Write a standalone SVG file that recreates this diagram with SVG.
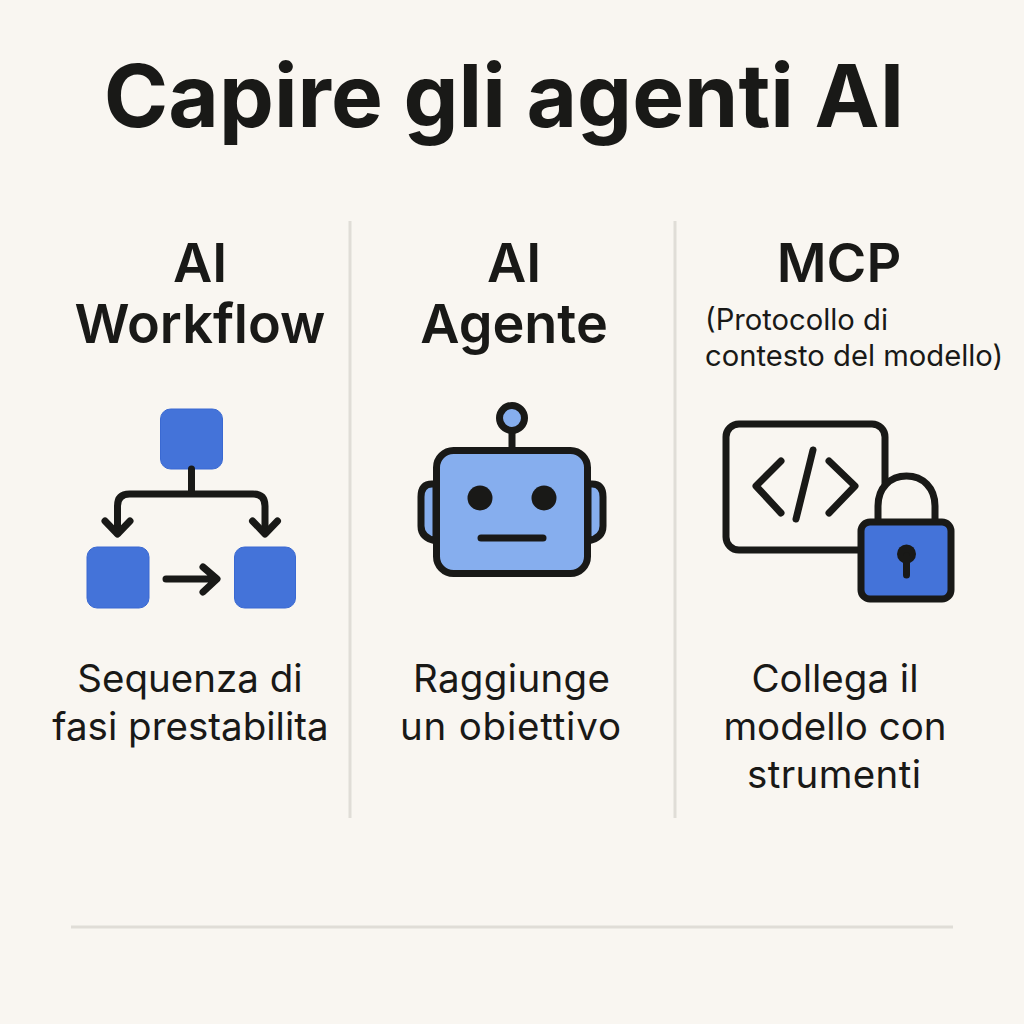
<svg xmlns="http://www.w3.org/2000/svg" width="1024" height="1024" viewBox="0 0 1024 1024">
<style>
text{font-family:"Inter","Liberation Sans",sans-serif;fill:#191917;text-anchor:middle}
.t{font-size:87.200px;font-weight:700}
.h{font-size:54px;font-weight:625}
.b{font-size:38.500px;font-weight:400}
.s{font-size:29.200px;font-weight:400;text-anchor:start}
.k{fill:none;stroke:#191917;stroke-width:7;stroke-linecap:round;stroke-linejoin:round}
.sq{fill:#4473d9;stroke:#3a69d2;stroke-width:1}
.d{stroke:#e0ddd7;stroke-width:3;fill:none}
.o{stroke:#191917;stroke-width:7}
.ro{fill:#86aeee}
</style>
<rect width="1024" height="1024" fill="#f9f6f1"/>
<g id="title"><text class="t" x="504" y="127">Capire gli agenti AI</text></g>
<g id="dividers">
<path class="d" d="M350 221V818M675 221V818M71 927H953"/>
</g>
<g id="workflow">
<text class="h" x="200" y="282">AI</text>
<text class="h" x="200" y="343">Workflow</text>
<rect class="sq" x="160.500" y="409" width="62" height="60" rx="10"/>
<rect class="sq" x="87" y="547" width="62" height="61" rx="10"/>
<rect class="sq" x="234.500" y="547" width="61" height="61" rx="10"/>
<text class="b" x="190" y="692">Sequenza di</text>
<text class="b" x="190.500" y="740">fasi prestabilita</text>
</g>
<g id="connectors">
<path class="k" d="M191.500 469V494M117.500 533V506Q117.500 494 129.500 494H253Q265 494 265 506V533"/>
<path class="k" d="M105 521L117.500 534L130 521M252.500 521L265 534L277.500 521"/>
<path class="k" d="M166 579H216M203 567L217 579L203 592"/>
</g>
<g id="agente">
<text class="h" x="514" y="282">AI</text>
<text class="h" x="514" y="343">Agente</text>
<path class="ro o" d="M436 484H432Q421 484 421 497V526Q421 538 436 541Z"/>
<path class="ro o" d="M588 484H592Q603 484 603 497V526Q603 538 588 541Z"/>
<path class="k" d="M512 432V448"/>
<circle class="ro o" cx="512" cy="418" r="12.500"/>
<rect class="ro o" x="436.500" y="450.500" width="151" height="123" rx="17"/>
<circle cx="480" cy="498" r="12.500" fill="#191917"/>
<circle cx="544" cy="498" r="12.500" fill="#191917"/>
<path class="k" d="M481 538H543"/>
<text class="b" x="511.500" y="692" textLength="197" lengthAdjust="spacing">Raggiunge</text>
<text class="b" x="510.500" y="740" textLength="221" lengthAdjust="spacing">un obiettivo</text>
</g>
<g id="mcp">
<text class="h" x="839" y="282">MCP</text>
<text class="s" x="705" y="330">(Protocollo di</text>
<text class="s" x="705" y="366">contesto del modello)</text>
<rect class="o" x="726" y="424" width="159" height="126" rx="13" fill="none"/>
<path class="k" d="M781 461L756 486L781 513M813 450L796 519M829 461L855 486L829 513"/>
<path class="o" d="M878 522V506C878 488 890 476 906.500 476S935 488 935 506V522" fill="#f9f6f1"/>
<rect class="o" x="861" y="522" width="90" height="77" rx="9" fill="#4473d9"/>
<circle cx="906.500" cy="554" r="9.500" fill="#191917"/>
<path class="k" d="M906.500 556V575"/>
<text class="b" x="835" y="692">Collega il</text>
<text class="b" x="835" y="740">modello con</text>
<text class="b" x="834" y="788" textLength="174" lengthAdjust="spacing">strumenti</text>
</g>
</svg>
